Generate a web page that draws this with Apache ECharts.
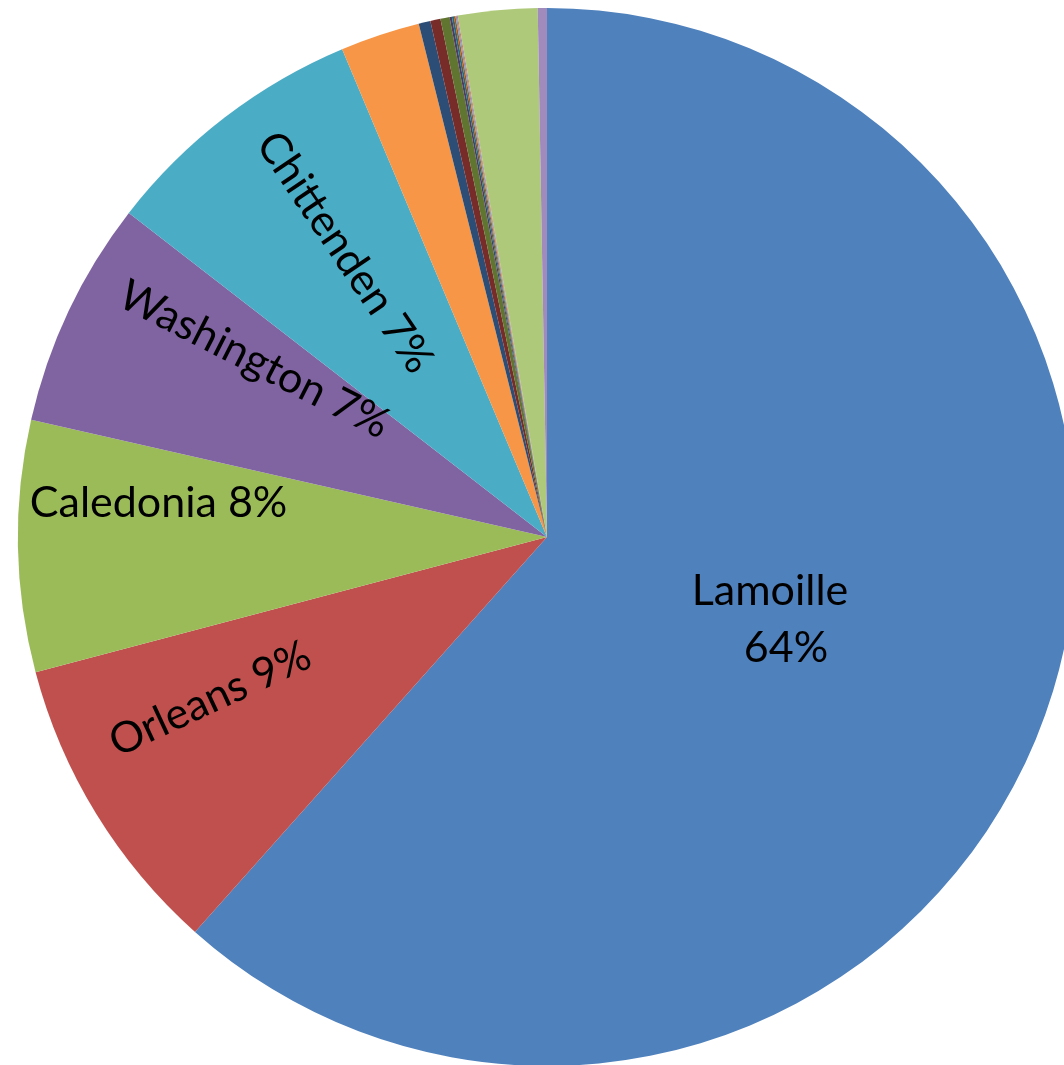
<!DOCTYPE html>
<html>
<head>
<meta charset="utf-8">
<script src="https://cdn.jsdelivr.net/npm/echarts@6/dist/echarts.min.js"></script>
<style>
  html, body { margin: 0; padding: 0; background: #ffffff; }
  #chart { width: 1064px; height: 1065px; }
</style>
</head>
<body>
<div id="chart"></div>
<script>
// ---- data ----
const categories = [
  'Lamoille', 'Orleans', 'Caledonia', 'Washington', 'Chittenden',
  'Other 6', 'Other 7', 'Other 8', 'Other 9', 'Other 10', 'Other 11',
  'Other 12', 'Other 13', 'Other 14', 'Other 15', 'Other 16'
];
const values = [
  61.6, 9.3, 7.67, 6.94, 8.18,
  2.43, 0.36, 0.31, 0.28, 0.07, 0.06,
  0.05, 0.04, 0.03, 2.42, 0.28
];
// percentages as printed on the labels (null = no label)
const labelPercents = [64, 9, 8, 7, 7, null, null, null, null, null, null, null, null, null, null, null];

// ---- styles ----
const colors = [
  '#4F81BD', '#C0504D', '#9BBB59', '#8064A2', '#4BACC6',
  '#F79646', '#2C4D75', '#772C2A', '#5F7530', '#4D3B62', '#276A7C',
  '#B65708', '#729ACA', '#CD7371', '#AFC97A', '#A18BBD'
];
const labelRotate = [0, 25, 0, -27, -56];
// nudges in each label's own (rotated) frame
const labelNudge = [[-27, -13], [-108, -26], [-121, -39], [-74, -33], [-82, -8]];

const data = categories.map((name, i) => {
  const item = { name: name, value: values[i], itemStyle: { color: colors[i] } };
  if (labelPercents[i] != null) {
    item.label = { show: true, rotate: labelRotate[i] };
  } else {
    item.label = { show: false };
  }
  return item;
});

const chart = echarts.init(document.getElementById('chart'));
chart.setOption({
  animation: false,
  backgroundColor: '#ffffff',
  series: [{
    type: 'pie',
    center: [547, 537],
    radius: [0, 529],
    startAngle: 90,
    clockwise: true,
    avoidLabelOverlap: false,
    itemStyle: { borderWidth: 0 },
    emphasis: { disabled: true },
    labelLine: { show: false },
    label: {
      position: 'inside',
      color: '#000000',
      fontFamily: 'Lato',
      fontSize: 43,
      lineHeight: 57,
      formatter: function (p) {
        const pct = labelPercents[p.dataIndex];
        if (p.dataIndex === 0) return p.name + '\n{p|' + pct + '%}';
        return p.name + ' ' + pct + '%';
      },
      rich: {
        p: { fontFamily: 'Lato', fontSize: 43, color: '#000000', padding: [0, 0, 0, 32], lineHeight: 57 }
      }
    },
    labelLayout: function (params) {
      const n = labelNudge[params.dataIndex];
      return n ? { dx: n[0], dy: n[1] } : {};
    },
    data: data
  }]
});
</script>
</body>
</html>
